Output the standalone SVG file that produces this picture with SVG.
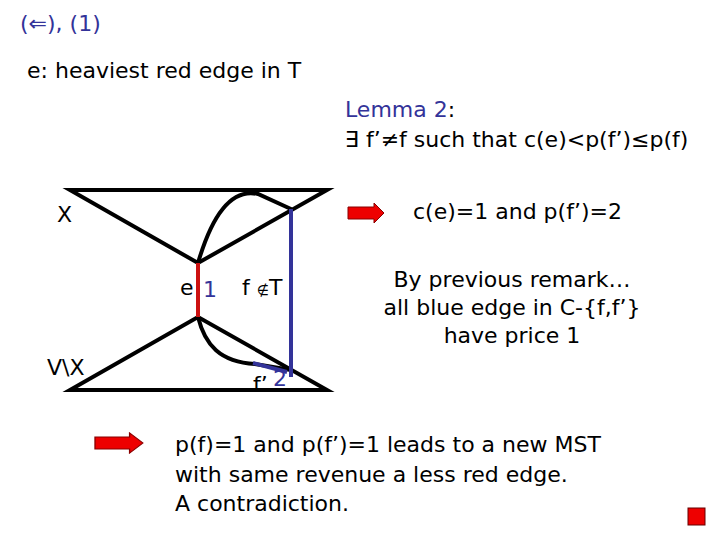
<svg xmlns="http://www.w3.org/2000/svg" width="720" height="540" viewBox="0 0 720 540">
<defs>
<style>
.t{font-family:"DejaVu Sans","Liberation Sans",sans-serif;font-size:22px;fill:#000}
.b{fill:#333399}
.ln{stroke:#000;stroke-width:4;fill:none;stroke-linecap:round}
.blue{stroke:#333399;stroke-width:4;fill:none}
.red{stroke:#cc1111;stroke-width:4;fill:none}
.arr{fill:#ee0000;stroke:#880000;stroke-width:1}
</style>
<path id="arrow" class="arr" d="M0,4 H26 V0 L36,10 L26,20 V16 H0 Z"/>
</defs>
<rect width="720" height="540" fill="#fff"/>
<g id="title">
<text class="t b" x="20" y="31">(⇐), (1)</text>
<text class="t" x="27" y="78">e: heaviest red edge in T</text>
</g>
<g id="lemma">
<text class="t b" x="345" y="117">Lemma 2<tspan fill="#000">:</tspan></text>
<text class="t" x="345" y="147">∃ f’≠f such that c(e)&lt;p(f’)≤p(f)</text>
</g>
<g id="graph">
<path class="ln" d="M70,190 H327 L198,263 Z"/>
<path class="ln" d="M70,390 H327 L198,317 Z"/>
<path class="ln" d="M198,263 C212,215 232,188 258,194 L291,209"/>
<path class="ln" d="M198,317 C205,345 220,362 255,364 L291,370"/>
</g>
<g id="connectors">
<line class="red" x1="198" y1="263" x2="198" y2="317"/>
<line class="blue" x1="291" y1="209" x2="291" y2="377"/>
<line class="blue" x1="253" y1="363" x2="287" y2="372"/>
</g>
<g id="labels">
<text class="t" x="57" y="222">X</text>
<text class="t" x="47" y="375">V\X</text>
<text class="t" x="180" y="295">e</text>
<text class="t b" x="203" y="297">1</text>
<text class="t" x="242" y="295">f <tspan font-size="14">∉</tspan>T</text>
<text class="t" x="253" y="392">f’</text>
<text class="t b" x="273" y="386">2</text>
</g>
<g id="arrow1">
<use href="#arrow" x="348" y="203"/>
<text class="t" x="413" y="219">c(e)=1 and p(f’)=2</text>
</g>
<g id="remark">
<text class="t" x="512" y="287" text-anchor="middle">By previous remark…</text>
<text class="t" x="512" y="315" text-anchor="middle">all blue edge in C-{f,f’}</text>
<text class="t" x="512" y="343" text-anchor="middle">have price 1</text>
</g>
<g id="arrow2">
<use href="#arrow" transform="translate(95,433) scale(1.33,1)"/>
<text class="t" x="175" y="452">p(f)=1 and p(f’)=1 leads to a new MST</text>
<text class="t" x="175" y="482">with same revenue a less red edge.</text>
<text class="t" x="175" y="511">A contradiction.</text>
</g>
<rect x="688" y="508" width="17" height="17" fill="#ee0000" stroke="#660000" stroke-width="1"/>
</svg>
